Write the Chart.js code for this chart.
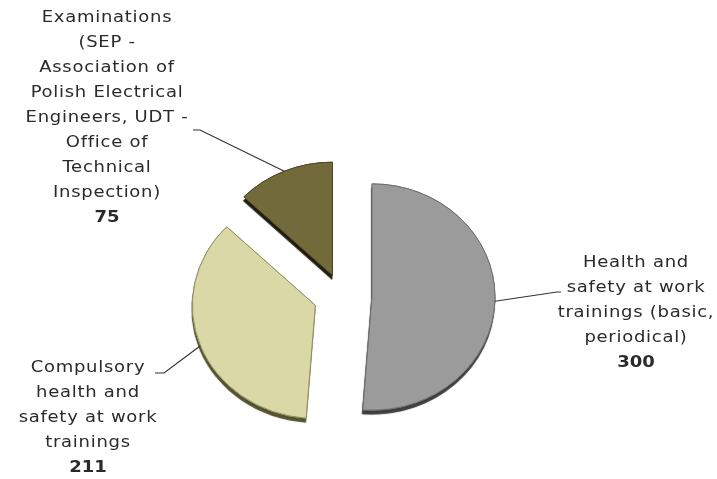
<!DOCTYPE html>
<html>
<head>
<meta charset="utf-8">
<script src="https://cdn.jsdelivr.net/npm/chart.js@4/dist/chart.umd.min.js"></script>
<style>
  html, body { margin: 0; padding: 0; background: #ffffff; }
  #wrap { width: 717px; height: 479px; position: relative; }
</style>
</head>
<body>
<div id="wrap"><canvas id="c"></canvas></div>
<script>
// Training categories and number of participants
const categories = [
  ['Health and', 'safety at work', 'trainings (basic,', 'periodical)'],
  ['Compulsory', 'health and', 'safety at work', 'trainings'],
  ['Examinations', '(SEP -', 'Association of', 'Polish Electrical', 'Engineers, UDT -', 'Office of', 'Technical', 'Inspection)']
];
const values = [300, 211, 75];
const valueLabels = values.map(String);

// Slice styling
const sliceColors = ['#9b9b9b', '#d9d8a6', '#736a3c'];
const sliceBorders = ['#6e6e6e', '#8f8e62', '#4e4826'];
const sideColors = ['#3e3e3e', '#55522f', '#1e1b0c'];   // visible thickness of each slice
const explodeDist = [30, 28.5, 24.4];   // pull-out of each slice, px
const tiltY = 0.92;                     // vertical squash of the disc

// Label blocks: centre x, first line y, and leader-line route
const labelLayout = [
  { x: 636, y: 263, elbow: [557, 292], end: [561, 292] },
  { x: 88,  y: 368, elbow: [164, 373], end: [155, 373] },
  { x: 107, y: 18,  elbow: [200, 130], end: [193, 130] }
];
const lineGap = 25;
const FONT = '"DejaVu Sans", sans-serif';
const textStretch = 1.2;

let pieCenter = { x: 0, y: 0 };

function tilt(ctx) {
  ctx.translate(pieCenter.x, pieCenter.y);
  ctx.scale(1, tiltY);
  ctx.translate(-pieCenter.x, -pieCenter.y);
}

const explodePlugin = {
  id: 'explode',
  afterDatasetsUpdate(chart) {
    const meta = chart.getDatasetMeta(0);
    if (meta.data.length) pieCenter = { x: meta.data[0].x, y: meta.data[0].y };
    meta.data.forEach((arc, i) => {
      const mid = (arc.startAngle + arc.endAngle) / 2;
      arc.x += Math.cos(mid) * explodeDist[i];
      arc.y += Math.sin(mid) * explodeDist[i];
    });
  },
  beforeDatasetsDraw(chart) {
    const ctx = chart.ctx;
    const meta = chart.getDatasetMeta(0);
    // first pass: slices with a hard drop shadow that forms the side wall
    ctx.save();
    tilt(ctx);
    ctx.shadowOffsetX = -0.5;
    ctx.shadowOffsetY = 4;
    ctx.shadowBlur = 0.8;
    meta.data.forEach((arc, i) => {
      ctx.shadowColor = sideColors[i];
      arc.draw(ctx);
    });
    ctx.restore();
    // second pass (the regular dataset draw) goes on top, without shadow
    ctx.save();
    tilt(ctx);
  },
  afterDatasetsDraw(chart) {
    chart.ctx.restore();
  }
};

const labelPlugin = {
  id: 'sliceLabels',
  afterDraw(chart) {
    const ctx = chart.ctx;
    const meta = chart.getDatasetMeta(0);
    ctx.save();
    meta.data.forEach((arc, i) => {
      const mid = (arc.startAngle + arc.endAngle) / 2;
      const ax = arc.x + Math.cos(mid) * arc.outerRadius;
      const ayRaw = arc.y + Math.sin(mid) * arc.outerRadius;
      const ay = pieCenter.y + (ayRaw - pieCenter.y) * tiltY;
      const L = labelLayout[i];
      // leader line
      ctx.strokeStyle = '#333333';
      ctx.lineWidth = 1.2;
      ctx.beginPath();
      ctx.moveTo(ax, ay);
      ctx.lineTo(L.elbow[0], L.elbow[1]);
      ctx.lineTo(L.end[0], L.end[1]);
      ctx.stroke();
      // text, drawn a little wider than the face's natural width
      ctx.save();
      ctx.translate(L.x, 0);
      ctx.scale(textStretch, 1);
      ctx.fillStyle = '#2a2a2a';
      ctx.textAlign = 'center';
      ctx.textBaseline = 'middle';
      ctx.letterSpacing = '0.6px';
      ctx.font = '15px ' + FONT;
      const lines = categories[i];
      lines.forEach((t, k) => ctx.fillText(t, 0, L.y + k * lineGap));
      ctx.font = 'bold 15px ' + FONT;
      ctx.letterSpacing = '0px';
      ctx.fillText(valueLabels[i], 0, L.y + lines.length * lineGap);
      ctx.restore();
    });
    ctx.restore();
  }
};

new Chart(document.getElementById('c'), {
  type: 'pie',
  data: {
    labels: categories.map(l => l.join(' ')),
    datasets: [{
      data: values,
      backgroundColor: sliceColors,
      borderColor: sliceBorders,
      borderWidth: 1
    }]
  },
  options: {
    responsive: true,
    maintainAspectRatio: false,
    animation: false,
    rotation: 0,
    radius: 123,
    layout: { padding: { left: 0, right: 33, top: 113, bottom: 0 } },
    plugins: {
      legend: { display: false },
      tooltip: { enabled: false }
    },
    events: []
  },
  plugins: [explodePlugin, labelPlugin]
});
</script>
</body>
</html>
